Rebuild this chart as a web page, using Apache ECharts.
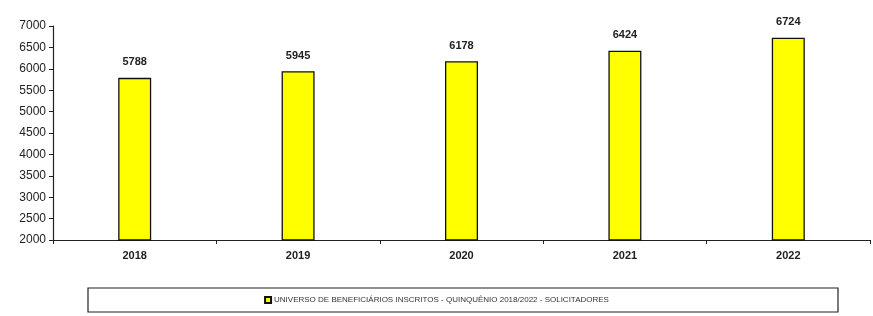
<!DOCTYPE html>
<html>
<head>
<meta charset="utf-8">
<script src="https://cdn.jsdelivr.net/npm/echarts@6/dist/echarts.min.js"></script>
<style>
  html, body { margin: 0; padding: 0; background: #fff; }
  #chart { width: 873px; height: 316px; }
</style>
</head>
<body>
<div id="chart"></div>
<script>
  const years = ['2018', '2019', '2020', '2021', '2022']
  const inscritos = [5788, 5945, 6178, 6424, 6724]
  const seriesName = 'UNIVERSO DE BENEFICIÁRIOS INSCRITOS - QUINQUÊNIO 2018/2022 - SOLICITADORES'

  const chart = echarts.init(document.getElementById('chart'))

  const option = {
    animation: false,
    textStyle: { fontFamily: 'Liberation Sans, Arial, sans-serif' },
    grid: { left: 53, right: 3, top: 26, bottom: 76, containLabel: false },
    graphic: [
      {
        type: 'rect',
        shape: { x: 88, y: 288, width: 750, height: 24 },
        style: { fill: 'none', stroke: '#222', lineWidth: 1.2 }
      }
    ],
    legend: {
      bottom: 7,
      left: 'center',
      itemWidth: 6,
      itemHeight: 6,
      icon: 'rect',
      textStyle: { fontSize: 8, color: '#333', padding: [0, 0, 0, -2] },
      data: [seriesName]
    },
    xAxis: {
      type: 'category',
      data: years,
      axisLine: { lineStyle: { color: '#222', width: 1.2 } },
      axisTick: { show: true, inside: false, length: 4, lineStyle: { color: '#222' } },
      axisLabel: { color: '#222', fontSize: 11, fontWeight: 'bold', margin: 10 }
    },
    yAxis: {
      type: 'value',
      min: 2000,
      max: 7000,
      interval: 500,
      axisLine: { show: true, lineStyle: { color: '#222', width: 1.2 } },
      axisTick: { show: true, length: 4, lineStyle: { color: '#222' } },
      axisLabel: { color: '#222', fontSize: 12, margin: 7, formatter: v => String(v) },
      splitLine: { show: false }
    },
    series: [
      {
        name: seriesName,
        type: 'bar',
        data: inscritos,
        barWidth: 33,
        itemStyle: { color: '#ffff00', borderColor: '#111', borderWidth: 1.3 },
        label: {
          show: true,
          position: 'top',
          distance: 10,
          color: '#222',
          fontSize: 11,
          fontWeight: 'bold'
        }
      }
    ]
  }

  chart.setOption(option)
</script>
</body>
</html>
